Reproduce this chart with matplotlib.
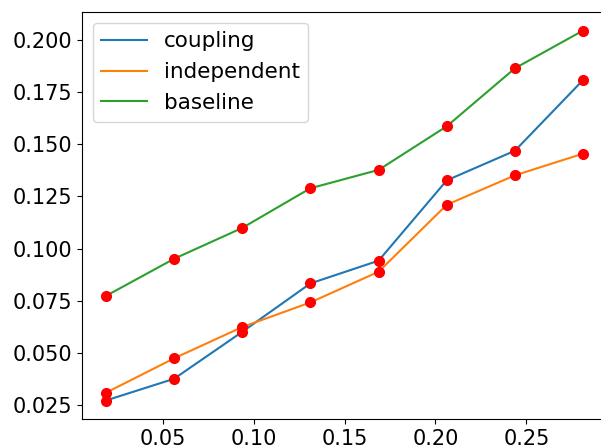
import matplotlib
matplotlib.use("Agg")
import matplotlib.pyplot as plt

x = [0.01875, 0.05625, 0.09375, 0.13125, 0.16875, 0.20625, 0.24375, 0.28125]
coupling = [0.0272, 0.0376, 0.0601, 0.0833, 0.0942, 0.1327, 0.1469, 0.1808]
independent = [0.0309, 0.0474, 0.0624, 0.0742, 0.0889, 0.1210, 0.1351, 0.1455]
baseline = [0.0773, 0.0951, 0.1099, 0.1289, 0.1377, 0.1586, 0.1864, 0.2045]
series = [("coupling", coupling), ("independent", independent), ("baseline", baseline)]

W, H = 601, 446
fig = plt.figure(figsize=(W / 100, H / 100), dpi=100)
ax = fig.add_axes([82 / W, (H - 419) / H, (607 - 82) / W, (419 - 12) / H])

for name, ys in series:
    ax.plot(x, ys, label=name)
    ax.plot(x, ys, "ro", markersize=7)

ax.tick_params(labelsize=15)
ax.legend(handles=ax.get_lines()[0::2], loc="upper left", fontsize=15.5,
          handlelength=2.1)

fig.savefig("out.png", dpi=100)
